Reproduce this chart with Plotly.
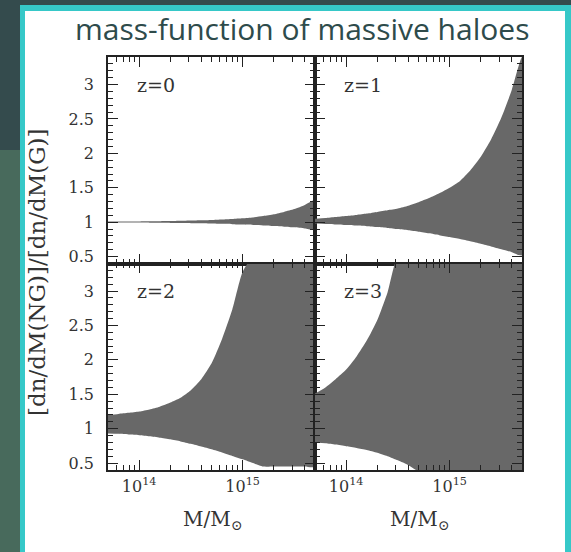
import math
import plotly.graph_objects as go
from plotly.subplots import make_subplots

# ---- data -------------------------------------------------------------
# halo mass grid (solar masses)
mass_msun = [5.0e13, 6.3e13, 7.9e13, 1.0e14, 1.26e14, 1.58e14, 2.0e14,
             2.51e14, 3.16e14, 3.98e14, 5.01e14, 6.31e14, 7.94e14, 1.0e15,
             1.26e15, 1.58e15, 2.0e15, 2.51e15, 3.16e15, 3.98e15, 5.01e15]

# ratio of non-Gaussian to Gaussian mass function: upper / lower envelope
z0_upper = [1.01, 1.01, 1.01, 1.01, 1.012, 1.014, 1.016, 1.02, 1.024, 1.028, 1.033,
            1.04, 1.048, 1.058, 1.07, 1.09, 1.115, 1.15, 1.19, 1.25, 1.32]
z0_lower = [0.995, 0.995, 0.995, 0.994, 0.993, 0.992, 0.99, 0.988, 0.986, 0.983, 0.98,
            0.976, 0.972, 0.966, 0.96, 0.953, 0.945, 0.935, 0.925, 0.91, 0.895]

z1_upper = [1.05, 1.06, 1.075, 1.09, 1.105, 1.125, 1.15, 1.175, 1.2, 1.24, 1.29,
            1.35, 1.42, 1.5, 1.6, 1.75, 1.95, 2.2, 2.52, 2.92, 3.4]
z1_lower = [0.98, 0.975, 0.968, 0.96, 0.952, 0.942, 0.93, 0.917, 0.9, 0.882, 0.862,
            0.838, 0.812, 0.785, 0.755, 0.722, 0.686, 0.648, 0.607, 0.565, 0.52]

z2_upper = [1.2, 1.215, 1.23, 1.25, 1.28, 1.32, 1.38, 1.45, 1.56, 1.72, 1.95,
            2.3, 2.73, 3.28, 3.5, 3.5, 3.5, 3.5, 3.5, 3.5, 3.5]
z2_lower = [0.93, 0.925, 0.915, 0.905, 0.89, 0.87, 0.845, 0.815, 0.78, 0.74, 0.7,
            0.655, 0.605, 0.555, 0.5, 0.45, 0.45, 0.45, 0.45, 0.45, 0.45]

z3_upper = [1.51, 1.6, 1.72, 1.86, 2.05, 2.28, 2.58, 2.98, 3.5, 3.5, 3.5,
            3.5, 3.5, 3.5, 3.5, 3.5, 3.5, 3.5, 3.5, 3.5, 3.5]
z3_lower = [0.8, 0.79, 0.77, 0.745, 0.72, 0.69, 0.65, 0.6, 0.54, 0.47, 0.38,
            0.35, 0.35, 0.35, 0.35, 0.35, 0.35, 0.35, 0.35, 0.35, 0.35]

redshifts = ["z=0", "z=1", "z=2", "z=3"]
uppers = [z0_upper, z1_upper, z2_upper, z3_upper]
lowers = [z0_lower, z1_lower, z2_lower, z3_lower]

x_tick_vals = [1e14, 1e15]
x_tick_text = ["10<sup>14</sup>", "10<sup>15</sup>"]
x_minor_vals = [6e13, 7e13, 8e13, 9e13, 2e14, 3e14, 4e14, 5e14, 6e14, 7e14,
                8e14, 9e14, 2e15, 3e15, 4e15, 5e15]
y_tick_vals = [0.5, 1, 1.5, 2, 2.5, 3]
y_tick_text = ["0.5", "1", "1.5", "2", "2.5", "3"]

# ---- layout geometry --------------------------------------------------
W, H = 571, 552
ML, MR, MT, MB = 108, 49, 57, 82
PW, PH = W - ML - MR, H - MT - MB


def px(x):
    return (x - ML) / PW


def py(y):
    return (H - MB - y) / PH


SERIF = "DejaVu Serif"
INK = "#222222"
TXT = "#333333"
BAND = "#686868"

fig = make_subplots(rows=2, cols=2, horizontal_spacing=0, vertical_spacing=0)

for i, (lab, up, lo) in enumerate(zip(redshifts, uppers, lowers)):
    r, c = i // 2 + 1, i % 2 + 1
    fig.add_trace(
        go.Scatter(
            x=mass_msun + mass_msun[::-1],
            y=up + lo[::-1],
            fill="toself",
            fillcolor=BAND,
            mode="lines",
            line=dict(width=0, color=BAND, shape="spline", smoothing=0.6),
            hoverinfo="skip",
            showlegend=False,
        ),
        row=r, col=c,
    )
    fig.add_annotation(
        text=lab, x=0.13, y=0.865, xref="x domain" if i == 0 else f"x{i+1} domain",
        yref="y domain" if i == 0 else f"y{i+1} domain",
        xanchor="left", yanchor="middle", showarrow=False,
        font=dict(family=SERIF, size=19, color=TXT),
    )

xr = [math.log10(5e13), math.log10(5e15)]
for i in range(4):
    r, c = i // 2 + 1, i % 2 + 1
    fig.update_xaxes(
        type="log", range=xr, showline=True, linecolor=INK, linewidth=1.5,
        mirror="ticks", ticks="inside", ticklen=10, tickwidth=1, tickcolor=INK,
        tickvals=x_tick_vals, ticktext=x_tick_text,
        showticklabels=(r == 2), showgrid=False, zeroline=False,
        minor=dict(tickvals=x_minor_vals, ticks="inside", ticklen=5,
                   tickwidth=1, tickcolor=INK, showgrid=False),
        tickfont=dict(family=SERIF, size=16, color=TXT),
        ticklabelstandoff=1,
        row=r, col=c,
    )
    fig.update_yaxes(
        range=[0.4, 3.4], showline=True, linecolor=INK, linewidth=1.5,
        mirror="ticks", ticks="inside", ticklen=10, tickwidth=1, tickcolor=INK,
        tickvals=y_tick_vals, ticktext=y_tick_text,
        showticklabels=(c == 1), showgrid=False, zeroline=False,
        minor=dict(dtick=0.1, tick0=0, ticks="inside", ticklen=5,
                   tickwidth=1, tickcolor=INK, showgrid=False),
        tickfont=dict(family=SERIF, size=16, color=TXT),
        ticklabelstandoff=9,
        row=r, col=c,
    )

# axis titles
fig.add_annotation(
    text="[dn/dM(NG)]/[dn/dM(G)]", textangle=-90,
    x=px(37), y=py(272), xref="paper", yref="paper",
    xanchor="center", yanchor="middle", showarrow=False,
    font=dict(family=SERIF, size=23, color=TXT),
)
for xc in (212, 419):
    fig.add_annotation(
        text="M/M<sub>⊙</sub>", x=px(xc), y=py(520), xref="paper", yref="paper",
        xanchor="center", yanchor="middle", showarrow=False,
        font=dict(family=SERIF, size=20, color=TXT),
    )

# slide title
fig.add_annotation(
    text="mass-function of massive haloes", x=px(302), y=py(29),
    xref="paper", yref="paper", xanchor="center", yanchor="middle",
    showarrow=False, font=dict(family="Open Sans", size=30, color="#2e4b4b"),
)

# slide frame: dark backdrop, green side band, turquoise border, white card
shapes = [
    dict(type="rect", xref="paper", yref="paper", x0=px(0), x1=px(20),
         y0=py(H), y1=py(150), fillcolor="#486a5c", line=dict(width=0), layer="below"),
    dict(type="rect", xref="paper", yref="paper", x0=px(20), x1=px(W + 2),
         y0=py(H + 2), y1=py(5), fillcolor="#36c8c8", line=dict(width=0), layer="below"),
    dict(type="rect", xref="paper", yref="paper", x0=px(25), x1=px(565),
         y0=py(H + 2), y1=py(11), fillcolor="#ffffff", line=dict(width=0), layer="below"),
]
fig.update_layout(
    shapes=shapes,
    width=W, height=H,
    margin=dict(l=ML, r=MR, t=MT, b=MB),
    paper_bgcolor="#344b4d",
    plot_bgcolor="#ffffff",
    showlegend=False,
)

fig.write_html("out.html")
